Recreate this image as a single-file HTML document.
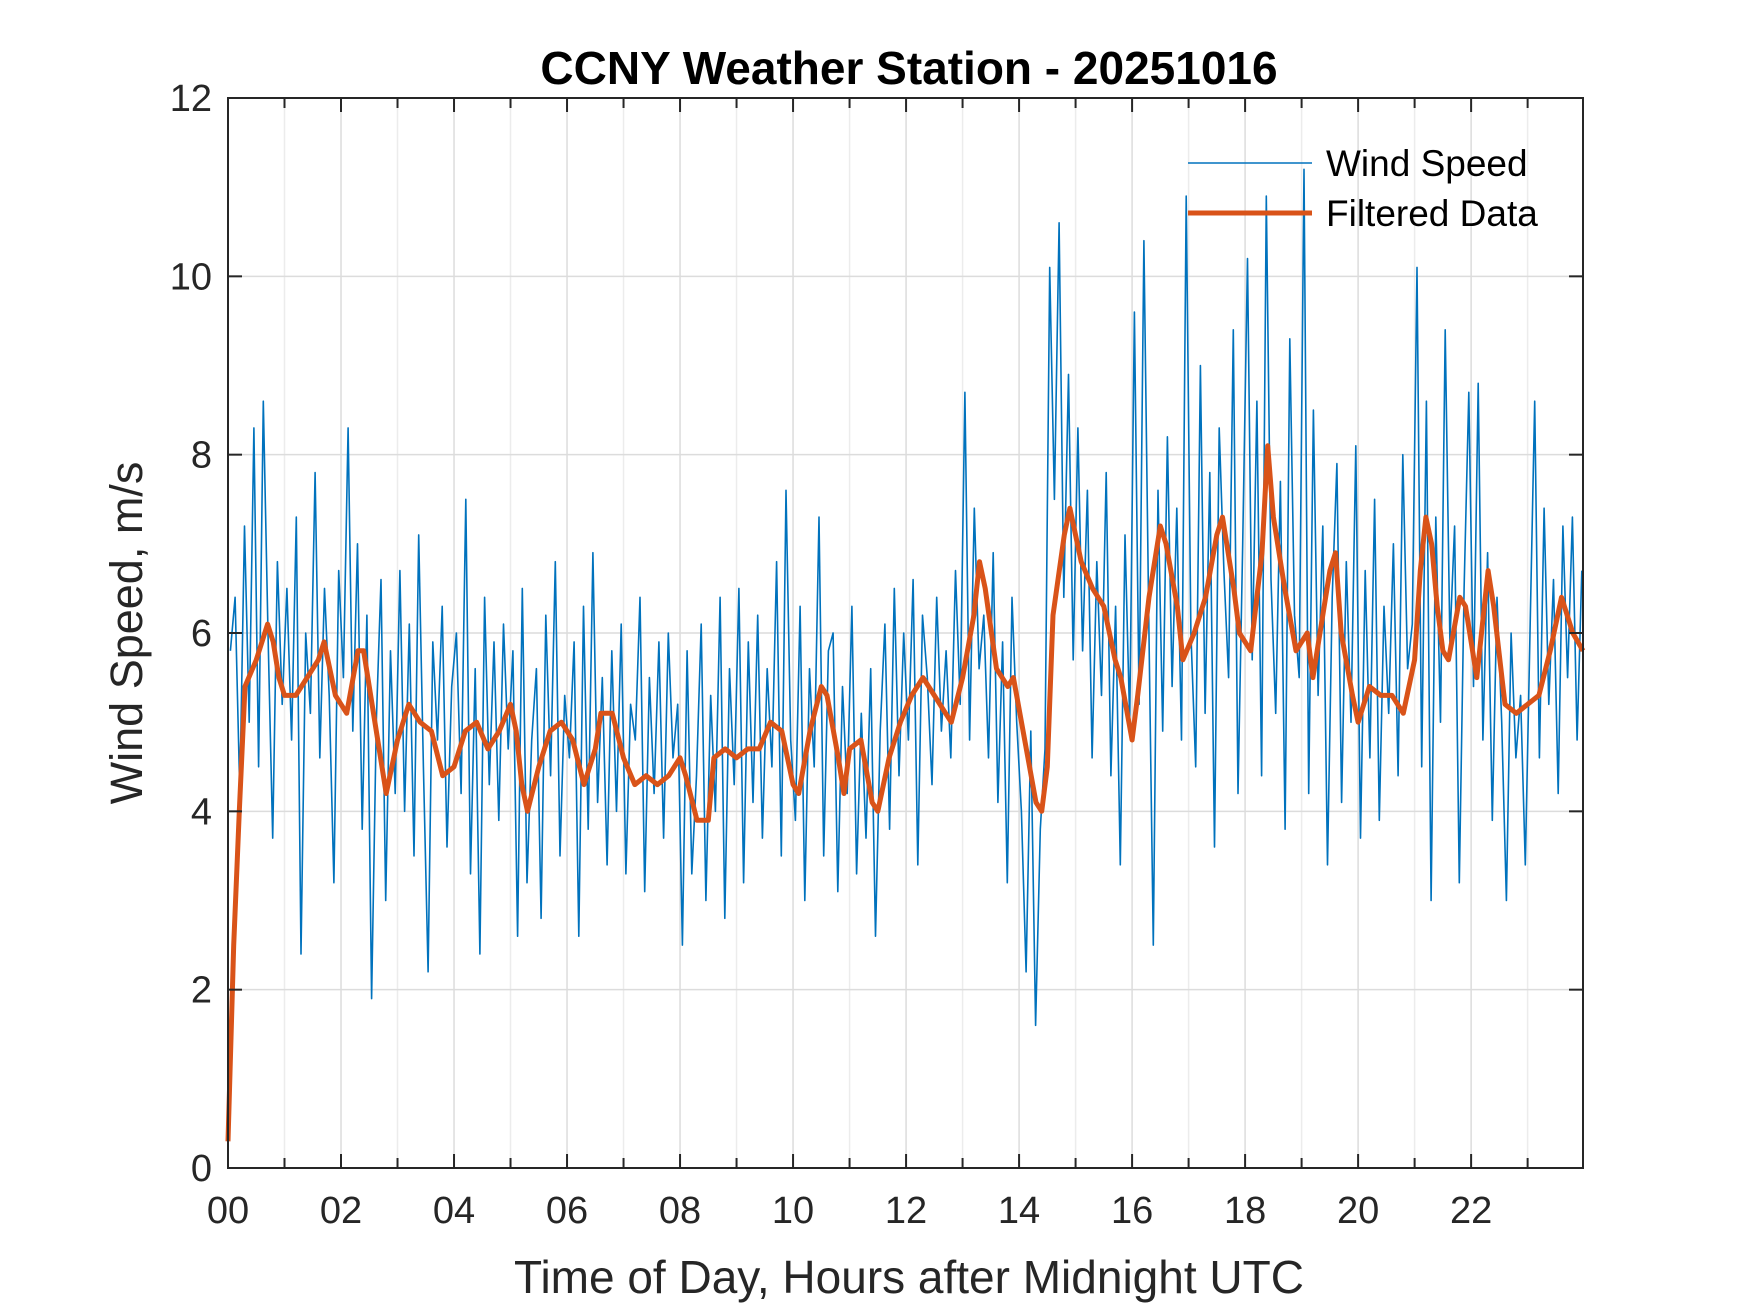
<!DOCTYPE html>
<html><head><meta charset="utf-8"><style>
html,body{margin:0;padding:0;background:#fff;}
svg{display:block;font-family:"Liberation Sans",Arial,sans-serif;}
</style></head><body>
<svg id="chart" width="1750" height="1313" viewBox="0 0 1750 1313" xmlns="http://www.w3.org/2000/svg">
<rect width="1750" height="1313" fill="#fff"/>
<text x="909" y="84" text-anchor="middle" font-size="46" font-weight="bold" fill="#000">CCNY Weather Station - 20251016</text>
<g id="grid"></g><g id="series"></g><g id="axes"></g>
<text transform="translate(142,633) rotate(-90)" text-anchor="middle" font-size="45" fill="#262626">Wind Speed, m/s</text>
<text x="909" y="1293" text-anchor="middle" font-size="46" fill="#262626">Time of Day, Hours after Midnight UTC</text>
<g>
<line x1="1188" y1="163" x2="1312" y2="163" stroke="#0072BD" stroke-width="1.5"/>
<text x="1326" y="176" font-size="37" fill="#000">Wind Speed</text>
<line x1="1188" y1="213" x2="1312" y2="213" stroke="#D95319" stroke-width="5"/>
<text x="1326" y="226" font-size="37" fill="#000">Filtered Data</text>
</g>
</svg>
<script>
const rawSpeed=[5.8,6.4,4.2,7.2,5.0,8.3,4.5,8.6,6.0,3.7,6.8,5.2,
6.5,4.8,7.3,2.4,6.0,5.1,7.8,4.6,6.5,5.3,3.2,6.7,
5.5,8.3,4.9,7.0,3.8,6.2,1.9,5.0,6.6,3.0,5.8,4.2,
6.7,4.0,6.1,3.5,7.1,4.5,2.2,5.9,4.8,6.3,3.6,5.4,
6.0,4.2,7.5,3.3,5.6,2.4,6.4,4.3,5.9,3.9,6.1,4.7,
5.8,2.6,6.5,3.2,4.8,5.6,2.8,6.2,4.4,6.8,3.5,5.3,
4.6,5.9,2.6,6.3,3.8,6.9,4.1,5.5,3.4,5.8,4.0,6.1,
3.3,5.2,4.8,6.4,3.1,5.5,4.2,5.9,3.7,6.0,4.6,5.2,
2.5,5.8,3.3,4.4,6.1,3.0,5.3,4.0,6.4,2.8,5.6,4.3,
6.5,3.2,5.9,4.1,6.2,3.7,5.6,4.5,6.8,3.5,7.6,4.8,
3.9,6.3,3.0,5.6,4.5,7.3,3.5,5.8,6.0,3.1,5.4,4.2,
6.3,3.3,5.1,3.7,5.6,2.6,4.9,6.1,3.8,6.5,4.4,6.0,
4.8,6.6,3.4,6.2,5.5,4.3,6.4,4.9,5.8,4.6,6.7,5.2,
8.7,4.8,7.4,5.6,6.2,4.6,6.9,4.1,5.9,3.2,6.4,5.0,
4.0,2.2,4.9,1.6,3.8,4.7,10.1,7.5,10.6,6.4,8.9,5.7,
8.3,5.8,7.6,4.6,6.8,5.3,7.8,4.4,6.3,3.4,7.1,5.0,
9.6,5.2,10.4,6.3,2.5,7.6,4.9,8.2,5.4,7.4,4.8,10.9,
6.0,4.5,9.0,5.1,7.8,3.6,8.3,6.7,5.5,9.4,4.2,7.0,
10.2,5.7,8.6,4.4,10.9,6.6,5.1,7.7,3.8,9.3,6.2,5.5,
11.2,4.2,8.5,5.3,7.2,3.4,6.4,7.9,4.1,6.8,5.0,8.1,
3.7,6.7,4.6,7.5,3.9,6.3,5.1,7.0,4.4,8.0,5.6,6.1,
10.1,4.5,8.6,3.0,7.3,5.0,9.4,5.9,7.2,3.2,6.5,8.7,
5.4,8.8,4.8,6.9,3.9,6.4,5.0,3.0,6.0,4.6,5.3,3.4,
6.0,8.6,4.6,7.4,5.2,6.6,4.2,7.2,5.5,7.3,4.8,6.7];
const filtHours=[0,0.1,0.2,0.3,0.5,0.7,0.8,0.9,1.0,1.2,1.4,1.6,1.7,1.9,2.1,2.3,2.4,2.6,2.8,3.0,3.2,3.4,3.6,3.8,4.0,4.2,4.4,4.6,4.8,5.0,5.1,5.2,5.3,5.5,5.7,5.9,6.1,6.3,6.5,6.6,6.8,7.0,7.2,7.4,7.6,7.8,8.0,8.1,8.3,8.5,8.6,8.8,9.0,9.2,9.4,9.6,9.8,10.0,10.1,10.3,10.5,10.6,10.8,10.9,11.0,11.2,11.4,11.5,11.7,11.9,12.1,12.3,12.5,12.7,12.8,13.0,13.2,13.3,13.4,13.6,13.8,13.9,14.1,14.3,14.4,14.5,14.6,14.8,14.9,15.1,15.3,15.5,15.7,15.8,16.0,16.1,16.3,16.5,16.6,16.8,16.9,17.1,17.3,17.5,17.6,17.8,17.9,18.1,18.3,18.4,18.5,18.7,18.9,19.1,19.2,19.4,19.5,19.6,19.7,19.9,20.0,20.2,20.4,20.6,20.8,21.0,21.1,21.2,21.3,21.4,21.5,21.6,21.8,21.9,22.1,22.3,22.4,22.6,22.8,23.0,23.2,23.4,23.6,23.7,23.8,23.98];
const filtSpeed=[0.3,2.5,4,5.4,5.7,6.1,5.9,5.5,5.3,5.3,5.5,5.7,5.9,5.3,5.1,5.8,5.8,5.0,4.2,4.8,5.2,5.0,4.9,4.4,4.5,4.9,5.0,4.7,4.9,5.2,4.9,4.3,4.0,4.5,4.9,5.0,4.8,4.3,4.7,5.1,5.1,4.6,4.3,4.4,4.3,4.4,4.6,4.4,3.9,3.9,4.6,4.7,4.6,4.7,4.7,5.0,4.9,4.3,4.2,4.9,5.4,5.3,4.6,4.2,4.7,4.8,4.1,4.0,4.6,5.0,5.3,5.5,5.3,5.1,5.0,5.5,6.2,6.8,6.5,5.6,5.4,5.5,4.8,4.1,4.0,4.5,6.2,7.1,7.4,6.8,6.5,6.3,5.7,5.5,4.8,5.3,6.4,7.2,7.0,6.3,5.7,6.0,6.4,7.1,7.3,6.5,6.0,5.8,6.9,8.1,7.3,6.5,5.8,6.0,5.5,6.3,6.7,6.9,6.0,5.3,5.0,5.4,5.3,5.3,5.1,5.7,6.7,7.3,7.0,6.3,5.8,5.7,6.4,6.3,5.5,6.7,6.3,5.2,5.1,5.2,5.3,5.8,6.4,6.2,6.0,5.8];
const yTicks=[0,2,4,6,8,10,12];
const xTickLabels=["00","02","04","06","08","10","12","14","16","18","20","22"];

const L=228,R=1583,T=98,B=1168,XMAX=23.98;
const X=h=>L+(h/XMAX)*(R-L);
const Y=v=>B-(v/12)*(B-T);
const NS="http://www.w3.org/2000/svg";
function mk(tag,attrs,parent){const e=document.createElementNS(NS,tag);for(const k in attrs)e.setAttribute(k,attrs[k]);parent.appendChild(e);return e;}
const grid=document.getElementById('grid'),series=document.getElementById('series'),axes=document.getElementById('axes');
for(let h=1;h<24;h++){
  const l=mk('line',{x1:X(h),x2:X(h),y1:T,y2:B,stroke:h%2?'#ececec':'#dcdcdc','stroke-width':1.5},grid);
  
  
}
yTicks.forEach(v=>{
  const l=mk('line',{x1:L,x2:R,y1:Y(v),y2:Y(v),stroke:'#dcdcdc','stroke-width':1.5},grid);
  
  
});
let d='';
rawSpeed.forEach((v,i)=>{const h=i/12+1/24;d+=(i?'L':'M')+X(h).toFixed(1)+','+Y(v).toFixed(1);});
const raw=mk('path',{d:d,fill:'none',stroke:'#0072BD','stroke-width':1.6,'stroke-linejoin':'round'},series);


d='';
filtSpeed.forEach((v,i)=>{d+=(i?'L':'M')+X(filtHours[i]).toFixed(1)+','+Y(v).toFixed(1);});
const fl=mk('path',{d:d,fill:'none',stroke:'#D95319','stroke-width':5,'stroke-linejoin':'round'},series);


const frame=mk('rect',{x:L,y:T,width:R-L,height:B-T,fill:'none',stroke:'#262626','stroke-width':2},axes);


for(let h=1;h<24;h++){
  const len=h%2?10:14;
  mk('line',{x1:X(h),x2:X(h),y1:B,y2:B-len,stroke:'#262626','stroke-width':2},axes);
  mk('line',{x1:X(h),x2:X(h),y1:T,y2:T+len,stroke:'#262626','stroke-width':2},axes);
}
xTickLabels.forEach((s,i)=>{
  const t=mk('text',{x:X(i*2),y:B+55,'text-anchor':'middle','font-size':38,fill:'#262626'},axes);
  t.textContent=s;
  
  
});
yTicks.forEach(v=>{
  mk('line',{x1:L,x2:L+14,y1:Y(v),y2:Y(v),stroke:'#262626','stroke-width':2},axes);
  mk('line',{x1:R,x2:R-14,y1:Y(v),y2:Y(v),stroke:'#262626','stroke-width':2},axes);
  const t=mk('text',{x:L-16,y:Y(v)+13,'text-anchor':'end','font-size':38,fill:'#262626'},axes);
  t.textContent=v;
  
  
});
</script>
</body></html>
